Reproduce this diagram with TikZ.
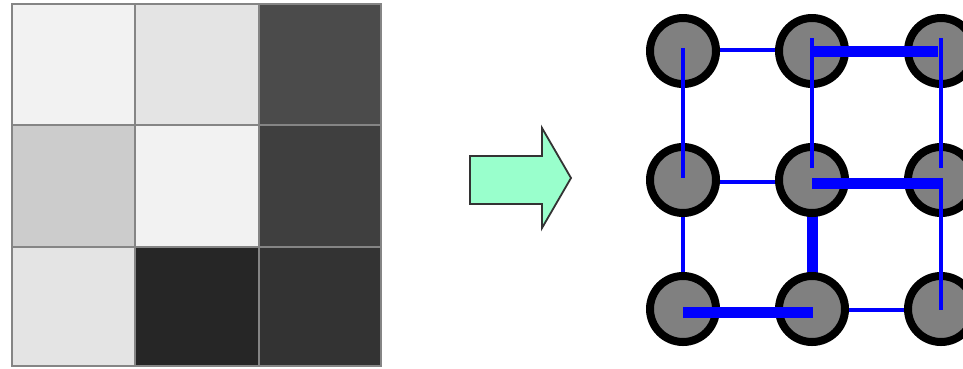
\documentclass[tikz,border=0pt]{standalone}
\usetikzlibrary{calc}
\pgfdeclarelayer{bg}
\pgfsetlayers{bg,main}
\definecolor{cA}{HTML}{F2F2F2}
\definecolor{cB}{HTML}{E4E4E4}
\definecolor{cC}{HTML}{4B4B4B}
\definecolor{cD}{HTML}{CCCCCC}
\definecolor{cE}{HTML}{3F3F3F}
\definecolor{cF}{HTML}{262626}
\definecolor{cG}{HTML}{333333}
\definecolor{arrowfill}{HTML}{99FFCC}
\definecolor{gridline}{HTML}{858585}
\tikzset{
  cell/.style={draw=gridline,line width=1.6pt},
  vtx/.style={circle,draw=black,line width=8pt,fill=gray,minimum size=66pt,inner sep=0pt},
  thinE/.style={draw=blue,line width=3.5pt},
  thickE/.style={draw=blue,line width=11pt},
}
\begin{document}
\begin{tikzpicture}[x=1pt,y=-1pt]
\useasboundingbox (0,0) rectangle (963,368);
% left image grid
\filldraw[cell,fill=cA] (12,4) rectangle (135,125);
\filldraw[cell,fill=cB] (135,4) rectangle (259,125);
\filldraw[cell,fill=cC] (259,4) rectangle (381,125);
\filldraw[cell,fill=cD] (12,125) rectangle (135,247);
\filldraw[cell,fill=cA] (135,125) rectangle (259,247);
\filldraw[cell,fill=cE] (259,125) rectangle (381,247);
\filldraw[cell,fill=cB] (12,247) rectangle (135,366);
\filldraw[cell,fill=cF] (135,247) rectangle (259,366);
\filldraw[cell,fill=cG] (259,247) rectangle (381,366);
% arrow
\filldraw[fill=arrowfill,draw=black!80,line width=1.8pt,line join=miter]
  (470,156) -- (542,156) -- (542,128) -- (571,178) -- (542,228) -- (542,204) -- (470,204) -- cycle;
% graph nodes
\node[vtx] (n11) at (683,51) {};
\node[vtx] (n12) at (812,51) {};
\node[vtx] (n13) at (941,51) {};
\node[vtx] (n21) at (683,180) {};
\node[vtx] (n22) at (812,180) {};
\node[vtx] (n23) at (941,180) {};
\node[vtx] (n31) at (683,309) {};
\node[vtx] (n32) at (812,309) {};
\node[vtx] (n33) at (941,309) {};
% edges under the nodes
\begin{pgfonlayer}{bg}
\draw[thinE] ($(n11.center)+(0,-1)$) -- ($(n12.center)+(0,-1)$);
\draw[thinE] ($(n21.center)+(0,2)$) -- ($(n22.center)+(0,2)$);
\draw[thinE] (n21.center) -- (n31.center);
\draw[thinE] ($(n32.center)+(0,1)$) -- ($(n33.center)+(0,1)$);
\draw[thickE] (n22.center) -- (n32.center);
\end{pgfonlayer}
% edges over the nodes
\draw[thinE] ($(n11.center)+(0,-3)$) -- ($(n21.center)+(0,-2)$);
\draw[thinE] ($(n12.center)+(0,-13)$) -- ($(n22.center)+(0,-12)$);
\draw[thinE] ($(n13.center)+(0,-13)$) -- ($(n23.center)+(0,-12)$);
\draw[thinE] ($(n23.center)+(0,-2)$) -- ($(n33.center)+(0,1)$);
\draw[thickE] ($(n12.center)+(0,0)$) -- ($(n13.center)+(-3,0)$);
\draw[thickE] ($(n22.center)+(0,3)$) -- ($(n23.center)+(-1,3)$);
\draw[thickE] ($(n31.center)+(0,3)$) -- ($(n32.center)+(1,3)$);
\end{tikzpicture}
\end{document}
